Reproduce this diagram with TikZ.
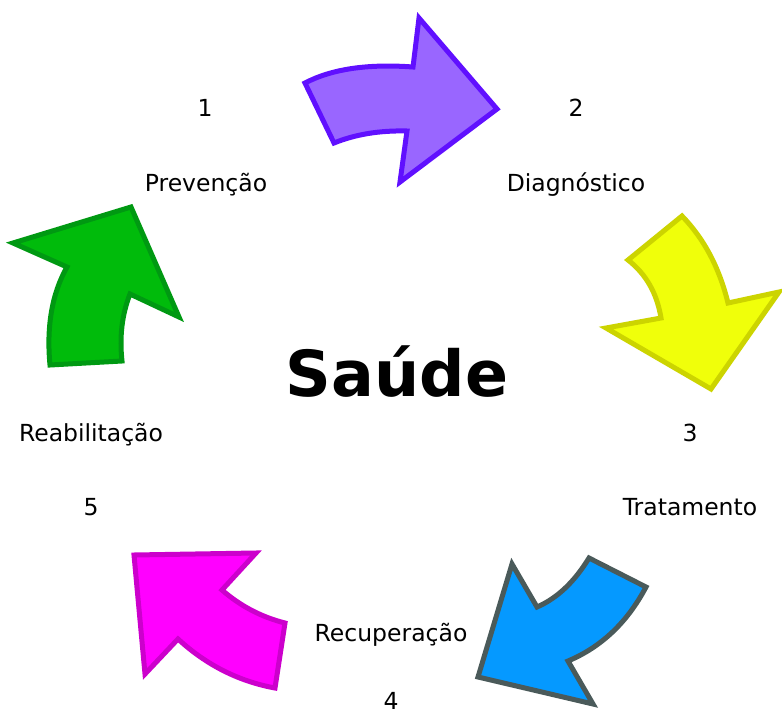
\documentclass[tikz,border=0pt]{standalone}
\usepackage{fontspec}
\usetikzlibrary{calc}
\setmainfont{DejaVu Sans}
\definecolor{pfill}{HTML}{9966FF}\definecolor{pline}{HTML}{6010FF}
\definecolor{yfill}{HTML}{F0FF0A}\definecolor{yline}{HTML}{CCD400}
\definecolor{bfill}{HTML}{0599FF}\definecolor{bline}{HTML}{4A5A5A}
\definecolor{mfill}{HTML}{FF00FF}\definecolor{mline}{HTML}{CC00CC}
\definecolor{gfill}{HTML}{00BB0B}\definecolor{gline}{HTML}{009912}
\tikzset{
  arrowshape/.style={line width=5pt, line join=miter, miter limit=10},
  lbl/.style={anchor=base, inner sep=0pt, font=\fontsize{23.5}{27}\selectfont},
  title/.style={anchor=base, inner sep=0pt, font=\fontsize{63.5}{70}\selectfont\bfseries}
}
% quadratic curve helper: \qc{P0}{Q}{P2}
\newcommand{\qc}[3]{.. controls ($(#1)!0.667!(#2)$) and ($(#3)!0.667!(#2)$) .. (#3)}
\begin{document}
\begin{tikzpicture}[x=1pt,y=-1pt]
\useasboundingbox (0,0) rectangle (782,715);
% purple
\draw[arrowshape, fill=pfill, draw=pline]
  (305,83) \qc{305,83}{345,62}{413,67} -- (419,18) -- (497,109) -- (400,182)
  -- (407,131) \qc{407,131}{366,130}{334,143} -- cycle;
% yellow
\draw[arrowshape, fill=yfill, draw=yline]
  (628,260) -- (682,216) \qc{682,216}{715,250}{728,303} -- (779,292)
  -- (711,389) -- (606,328) -- (661,318) \qc{661,318}{655,281}{628,260} -- cycle;
% blue
\draw[arrowshape, fill=bfill, draw=bline]
  (589,558) -- (646,587) \qc{646,587}{618,640}{568,661} -- (593,704)
  -- (478,677) -- (512,564) -- (537,607) \qc{537,607}{567,594}{589,558} -- cycle;
% magenta
\draw[arrowshape, fill=mfill, draw=mline]
  (134,555) -- (256,553) -- (222,590) \qc{222,590}{249.5,614}{285,623}
  -- (275,688) \qc{275,688}{220.5,678}{178,639} -- (145,674) -- cycle;
% green
\draw[arrowshape, fill=gfill, draw=gline]
  (13,243) -- (131,207) -- (179,317) -- (130,294) \qc{130,294}{118,324.5}{122,361}
  -- (50,365) \qc{50,365}{44.5,307}{67,267} -- cycle;
% labels
\node[lbl] (n1) at (205,116.7) {1};
\node[lbl] (l1) at (206,191.7) {Prevenção};
\node[lbl] (n2) at (576,116.7) {2};
\node[lbl] (l2) at (576,191.7) {Diagnóstico};
\node[lbl] (n3) at (690,441.7) {3};
\node[lbl] (l3) at (690,515) {Tratamento};
\node[lbl] (l4) at (391,641.7) {Recuperação};
\node[lbl] (n4) at (391,709) {4};
\node[lbl] (l5) at (91,441.7) {Reabilitação};
\node[lbl] (n5) at (91,515) {5};
\node[title] (t) at (397,396.7) {Saúde};
\end{tikzpicture}
\end{document}
